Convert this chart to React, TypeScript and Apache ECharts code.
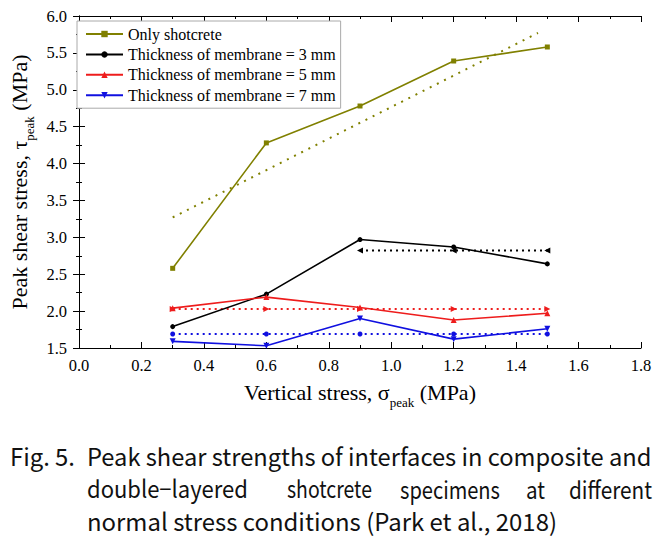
import React, { useEffect, useRef } from 'react';
import * as echarts from 'echarts';

// ---- data ----
const stress = [0.3, 0.6, 0.9, 1.2, 1.5];
const onlyShotcrete = [2.58, 4.28, 4.78, 5.39, 5.58];
const membrane3 = [1.79, 2.23, 2.97, 2.87, 2.64];
const membrane5 = [2.04, 2.19, 2.05, 1.88, 1.97];
const membrane7 = [1.59, 1.53, 1.9, 1.62, 1.76];

const trendShotcreteX = [0.3, 1.47];
const trendShotcreteY = [3.27, 5.77];
const avg3X = [0.9, 1.2, 1.5];
const avg3Y = [2.82, 2.82, 2.82];
const avg5Y = [2.03, 2.03, 2.03, 2.03, 2.03];
const avg7Y = [1.69, 1.69, 1.69, 1.69, 1.69];

const seriesNames = [
  'Only shotcrete',
  'Thickness of membrane = 3 mm',
  'Thickness of membrane = 5 mm',
  'Thickness of membrane = 7 mm',
];

const captionFamily = 'Noto Sans CJK KR';
const captionSize = 24;
// text, left, right, baseline
const captionParts: [string, number, number, number][] = [
  ['Fig. 5.', 10, 75, 467],
  ['Peak shear strengths of interfaces in composite and', 87, 652, 467],
  ['double\u2212layered', 87, 248, 500],
  ['shotcrete', 287, 372, 500],
  ['specimens', 400, 500, 500],
  ['at', 526, 545, 500],
  ['different', 569, 652, 500],
  ['normal stress conditions (Park et al., 2018)', 87, 557, 532],
];

const serif = 'Liberation Serif';

const zip = (xs: number[], ys: number[]) => xs.map((x, i) => [x, ys[i]]);

function measure(text: string, font: string): number {
  const ctx = document.createElement('canvas').getContext('2d');
  if (!ctx) return text.length * 10;
  ctx.font = font;
  return ctx.measureText(text).width;
}

export default function App() {
  const ref = useRef<HTMLDivElement>(null);
  useEffect(() => {
    if (!ref.current) return;
    const chart = echarts.init(ref.current, undefined, { renderer: 'svg' });

    const olive = '#808000';
    const black = '#000000';
    const red = '#ee1c1c';
    const blue = '#1010e0';
    const dotDash = [2, 4];

    const captionGraphics = captionParts.map(([t, l, r, b]) => {
      const w = measure(t, `${captionSize}px "${captionFamily}"`);
      return {
        type: 'text',
        x: l,
        y: b - 12,
        scaleX: (r - l) / w,
        style: {
          text: t,
          x: 0,
          y: 0,
          fill: '#111',
          fontFamily: captionFamily,
          fontSize: captionSize,
          align: 'left',
          verticalAlign: 'middle',
        },
      };
    });

    const axisCommon = {
      type: 'value' as const,
      axisLine: { show: true, lineStyle: { color: '#000', width: 1 } },
      axisTick: { show: true, inside: true, length: 6, lineStyle: { color: '#000' } },
      minorTick: { show: true, splitNumber: 2, length: 3, lineStyle: { color: '#000' } },
      splitLine: { show: false },
      minorSplitLine: { show: false },
    };

    chart.setOption({
      animation: false,
      backgroundColor: '#fff',
      grid: { left: 73, right: 30, top: 16, bottom: 192, containLabel: false },
      legend: {
        data: seriesNames,
        orient: 'vertical',
        left: 77,
        top: 21,
        padding: [5, 5, 5, 8],
        itemGap: 4.4,
        itemWidth: 37,
        itemHeight: 8,
        borderColor: '#aaa',
        borderWidth: 1,
        backgroundColor: '#fff',
        textStyle: { fontFamily: serif, fontSize: 16, color: '#000' },
      },
      xAxis: [
        {
          ...axisCommon,
          position: 'bottom',
          min: 0,
          max: 1.8,
          interval: 0.2,
          axisLabel: {
            formatter: (v: number) => v.toFixed(1),
            fontFamily: serif,
            fontSize: 16.5,
            color: '#000',
            margin: 9,
          },
          name: '{m|Vertical stress, σ}{s|peak}{m| (MPa)}',
          nameLocation: 'middle',
          nameGap: 28,
          nameTextStyle: {
            rich: {
              m: { fontFamily: serif, fontSize: 22, color: '#000' },
              s: { fontFamily: serif, fontSize: 13, color: '#000', padding: [20, 0, 0, 0] },
            },
          },
        },
        {
          ...axisCommon,
          position: 'top',
          min: 0,
          max: 1.8,
          interval: 0.2,
          axisLabel: { show: false },
        },
      ],
      yAxis: [
        {
          ...axisCommon,
          position: 'left',
          min: 1.5,
          max: 6.0,
          interval: 0.5,
          axisLabel: {
            formatter: (v: number) => v.toFixed(1),
            fontFamily: serif,
            fontSize: 16.5,
            color: '#000',
            margin: 12,
          },
          name: '{m|Peak shear stress, τ}{s|peak}{m| (MPa)}',
          nameLocation: 'middle',
          nameGap: 34,
          nameTextStyle: {
            rich: {
              m: { fontFamily: serif, fontSize: 22, color: '#000' },
              s: { fontFamily: serif, fontSize: 13, color: '#000', padding: [20, 0, 0, 0] },
            },
          },
        },
        {
          ...axisCommon,
          position: 'right',
          min: 1.5,
          max: 6.0,
          interval: 0.5,
          axisLabel: { show: false },
        },
      ],
      series: [
        {
          name: seriesNames[0],
          type: 'line',
          data: zip(stress, onlyShotcrete),
          symbol: 'rect',
          symbolSize: 5,
          itemStyle: { color: olive },
          lineStyle: { color: olive, width: 1.6 },
          z: 5,
        },
        {
          name: seriesNames[1],
          type: 'line',
          data: zip(stress, membrane3),
          symbol: 'circle',
          symbolSize: 5,
          itemStyle: { color: black },
          lineStyle: { color: black, width: 1.6 },
          z: 5,
        },
        {
          name: seriesNames[2],
          type: 'line',
          data: zip(stress, membrane5),
          symbol: 'triangle',
          symbolSize: 6,
          itemStyle: { color: red },
          lineStyle: { color: red, width: 1.6 },
          z: 5,
        },
        {
          name: seriesNames[3],
          type: 'line',
          data: zip(stress, membrane7),
          symbol: 'triangle',
          symbolRotate: 180,
          symbolSize: 6,
          itemStyle: { color: blue },
          lineStyle: { color: blue, width: 1.6 },
          z: 5,
        },
        {
          name: 'trend-shotcrete',
          type: 'line',
          data: zip(trendShotcreteX, trendShotcreteY),
          symbol: 'none',
          lineStyle: { color: olive, width: 2, type: [2, 6] },
        },
        {
          name: 'avg-3',
          type: 'line',
          data: zip(avg3X, avg3Y),
          symbol: 'triangle',
          symbolRotate: 90,
          symbolSize: 6,
          itemStyle: { color: black },
          lineStyle: { color: black, width: 2, type: dotDash },
        },
        {
          name: 'avg-5',
          type: 'line',
          data: zip(stress, avg5Y),
          symbol: 'triangle',
          symbolRotate: -90,
          symbolSize: 6,
          itemStyle: { color: red },
          lineStyle: { color: red, width: 2, type: dotDash },
        },
        {
          name: 'avg-7',
          type: 'line',
          data: zip(stress, avg7Y),
          symbol: 'circle',
          symbolSize: 5,
          itemStyle: { color: blue },
          lineStyle: { color: blue, width: 2, type: dotDash },
        },
      ],
      graphic: captionGraphics,
    });

    return () => chart.dispose();
  }, []);

  return <div ref={ref} style={{ width: 671, height: 540, position: 'absolute', left: 0, top: 0 }} />;
}
